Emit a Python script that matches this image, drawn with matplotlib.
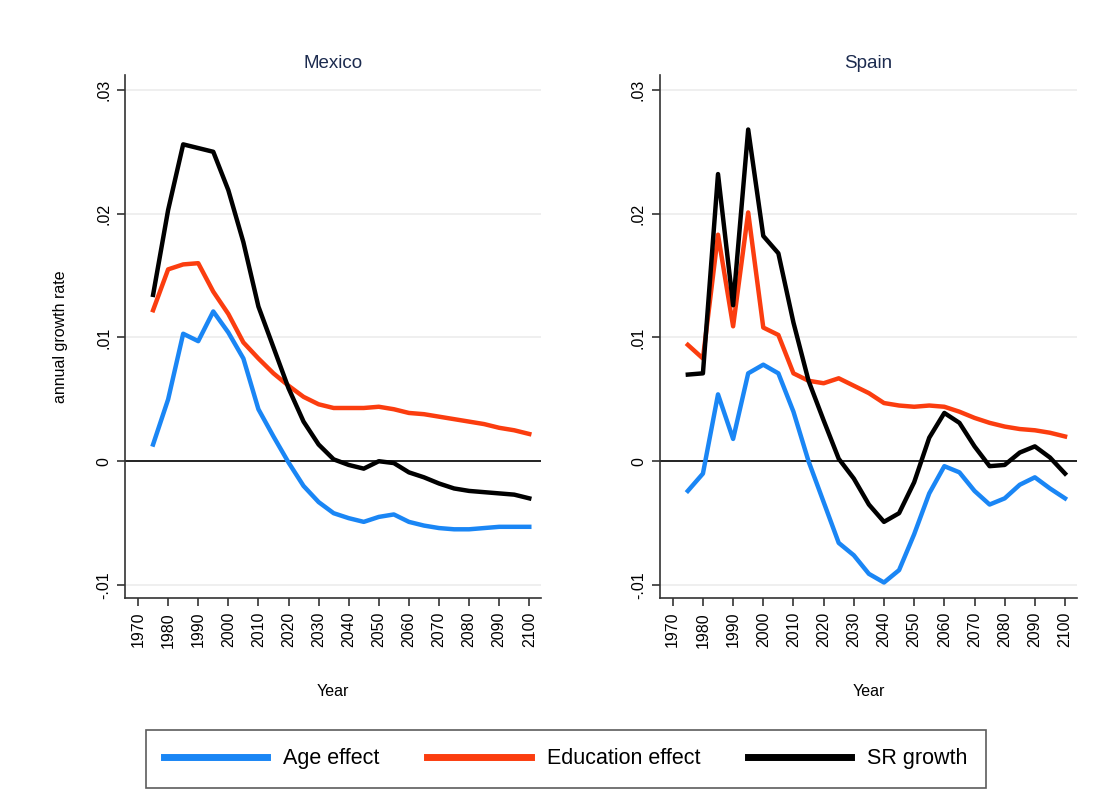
import matplotlib
matplotlib.use('Agg')
from matplotlib import pyplot as plt
import numpy as np

plt.rcParams['font.family'] = ['Liberation Sans', 'DejaVu Sans']

# 5-year steps
years = list(range(1975, 2101, 5))

# Mexico
mex_age = [0.00135, 0.0050, 0.0103, 0.0097, 0.0121, 0.0104, 0.0083, 0.0042, 0.0020, -0.0001,
           -0.0020, -0.0033, -0.0042, -0.0046, -0.0049, -0.0045, -0.0043, -0.0049, -0.0052, -0.0054,
           -0.0055, -0.0055, -0.0054, -0.0053, -0.0053, -0.0053]
mex_edu = [0.0122, 0.0155, 0.0159, 0.0160, 0.0137, 0.0119, 0.0096, 0.0083, 0.0071, 0.0061,
           0.0052, 0.0046, 0.0043, 0.0043, 0.0043, 0.0044, 0.0042, 0.0039, 0.0038, 0.0036,
           0.0034, 0.0032, 0.0030, 0.0027, 0.0025, 0.0022]
mex_sr = [0.01344, 0.0203, 0.0256, 0.0253, 0.0250, 0.0219, 0.0177, 0.0125, 0.0092, 0.0059,
          0.0032, 0.00135, 0.00015, -0.0003, -0.0006, 0.0, -0.00015, -0.0009, -0.0013, -0.0018,
          -0.0022, -0.0024, -0.0025, -0.0026, -0.0027, -0.0030]

# Spain
esp_age = [-0.0024, -0.0010, 0.0054, 0.0018, 0.0071, 0.0078, 0.0071, 0.0040, 0.0000, -0.0033,
           -0.0066, -0.0076, -0.0091, -0.0098, -0.0088, -0.0059, -0.0026, -0.0004, -0.0009, -0.0024,
           -0.0035, -0.0030, -0.0019, -0.0013, -0.0022, -0.0030]
esp_edu = [0.0094, 0.0083, 0.0183, 0.0109, 0.0201, 0.0108, 0.0102, 0.0071, 0.0065, 0.0063,
           0.0067, 0.0061, 0.0055, 0.0047, 0.0045, 0.0044, 0.0045, 0.0044, 0.0040, 0.0035,
           0.0031, 0.0028, 0.0026, 0.0025, 0.0023, 0.0020]
esp_sr = [0.0070, 0.0071, 0.0232, 0.0126, 0.0268, 0.0182, 0.0168, 0.0112, 0.0065, 0.0033,
          0.0002, -0.0014, -0.0035, -0.0049, -0.0042, -0.0017, 0.0019, 0.0039, 0.0031, 0.0012,
          -0.0004, -0.0003, 0.0007, 0.0012, 0.0003, -0.0010]

series_names = ['Age effect', 'Education effect', 'SR growth']
colors = ['#1a86f5', '#fb3d0f', 'black']

yticks = [-0.01, 0, 0.01, 0.02, 0.03]
ytick_labels = ['-.01', '0', '.01', '.02', '.03']
xticks = list(range(1970, 2101, 10))

fig = plt.figure(figsize=(11.07, 8.07), dpi=100)
ax1 = fig.add_axes([0.113, 0.259, 0.376, 0.648])
ax2 = fig.add_axes([0.596, 0.259, 0.377, 0.648])

panels = [(ax1, 'Mexico', [mex_age, mex_edu, mex_sr]),
          (ax2, 'Spain', [esp_age, esp_edu, esp_sr])]

for ax, title, data in panels:
    for yt in yticks:
        ax.axhline(yt, color='#ececec', lw=1.2, zorder=0)
    ax.axhline(0, color='black', lw=1.2, zorder=1)
    for vals, name, c in zip(data, series_names, colors):
        ax.plot(years, vals, color=c, lw=3.2, label=name, zorder=2)
    ax.set_xlim(1965.7, 2104)
    ax.set_ylim(-0.01105, 0.0312)
    ax.set_yticks(yticks)
    ax.set_yticklabels(ytick_labels, rotation=90, va='center', fontsize=11.5)
    ax.set_xticks(xticks)
    ax.set_xticklabels([str(x) for x in xticks], rotation=90, fontsize=11.5)
    ax.tick_params(length=6, width=1.2, color='#333333', pad=4)
    for s in ['top', 'right']:
        ax.spines[s].set_visible(False)
    for s in ['left', 'bottom']:
        ax.spines[s].set_color('#333333')
        ax.spines[s].set_linewidth(1.2)
    ax.set_title(title, fontsize=13.5, color='#1c2b4f', pad=5)
    ax.set_xlabel('Year', fontsize=11.5, labelpad=26)

ax1.set_ylabel('annual growth rate', fontsize=11.5, labelpad=20)

handles, labels = ax1.get_legend_handles_labels()
leg = fig.legend(handles, labels, loc='center', bbox_to_anchor=(0.511, 0.0595), ncol=3,
                 fontsize=15.5, frameon=True, fancybox=False, edgecolor='#333333',
                 handlelength=4.8, handletextpad=0.75, columnspacing=2.2,
                 borderpad=0.85, borderaxespad=0)
leg.get_frame().set_linewidth(1.2)
for line in leg.get_lines():
    line.set_linewidth(5)

fig.savefig('out.png', dpi=100, facecolor='white')
